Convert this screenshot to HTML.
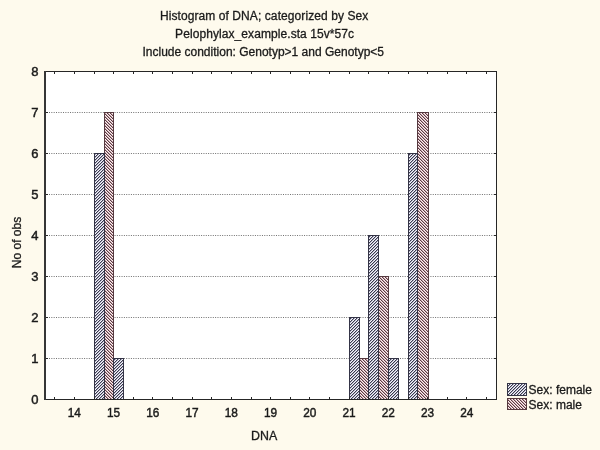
<!DOCTYPE html><html><head><meta charset="utf-8"><style>html,body{margin:0;padding:0;background:#FEFAED;}svg{display:block}text{font-family:"Liberation Sans",sans-serif;fill:#1a1a1a;stroke:#1a1a1a;stroke-width:0.3px}svg{will-change:transform}</style></head><body>
<svg width="600" height="450" viewBox="0 0 600 450" shape-rendering="crispEdges">
<defs>
<pattern id="hf" patternUnits="userSpaceOnUse" width="3" height="3"><rect width="3" height="3" fill="#f6f6fe"/><rect x="2" y="0" width="1" height="1" fill="#3a3a4c"/><rect x="0" y="0" width="1" height="1" fill="#aeaec2"/><rect x="1" y="1" width="1" height="1" fill="#3a3a4c"/><rect x="2" y="1" width="1" height="1" fill="#aeaec2"/><rect x="0" y="2" width="1" height="1" fill="#3a3a4c"/><rect x="1" y="2" width="1" height="1" fill="#aeaec2"/></pattern>
<pattern id="hm" patternUnits="userSpaceOnUse" width="3" height="3"><rect width="3" height="3" fill="#fff0f3"/><rect x="0" y="0" width="1" height="1" fill="#5c3c42"/><rect x="1" y="0" width="1" height="1" fill="#c6a6ac"/><rect x="1" y="1" width="1" height="1" fill="#5c3c42"/><rect x="2" y="1" width="1" height="1" fill="#c6a6ac"/><rect x="2" y="2" width="1" height="1" fill="#5c3c42"/><rect x="0" y="2" width="1" height="1" fill="#c6a6ac"/></pattern>
</defs>
<rect x="0" y="0" width="600" height="450" fill="#FEFAED"/>
<rect x="44" y="71" width="453" height="329" fill="#fff"/>
<line x1="49" y1="358.5" x2="494" y2="358.5" stroke="#707070" stroke-width="1" stroke-dasharray="1 1.34" shape-rendering="auto"/>
<line x1="49" y1="317.5" x2="494" y2="317.5" stroke="#707070" stroke-width="1" stroke-dasharray="1 1.34" shape-rendering="auto"/>
<line x1="49" y1="276.5" x2="494" y2="276.5" stroke="#707070" stroke-width="1" stroke-dasharray="1 1.34" shape-rendering="auto"/>
<line x1="49" y1="235.5" x2="494" y2="235.5" stroke="#707070" stroke-width="1" stroke-dasharray="1 1.34" shape-rendering="auto"/>
<line x1="49" y1="194.5" x2="494" y2="194.5" stroke="#707070" stroke-width="1" stroke-dasharray="1 1.34" shape-rendering="auto"/>
<line x1="49" y1="153.5" x2="494" y2="153.5" stroke="#707070" stroke-width="1" stroke-dasharray="1 1.34" shape-rendering="auto"/>
<line x1="49" y1="112.5" x2="494" y2="112.5" stroke="#707070" stroke-width="1" stroke-dasharray="1 1.34" shape-rendering="auto"/>
<rect x="104" y="112" width="10" height="287" fill="url(#hm)"/><rect x="104" y="112" width="1" height="287" fill="#563a40"/><rect x="113" y="112" width="1" height="287" fill="#563a40"/><rect x="104" y="112" width="10" height="1" fill="#563a40"/>
<rect x="94" y="153" width="11" height="246" fill="url(#hf)"/><rect x="94" y="153" width="1" height="246" fill="#343446"/><rect x="104" y="153" width="1" height="246" fill="#343446"/><rect x="94" y="153" width="11" height="1" fill="#343446"/>
<rect x="113" y="358" width="11" height="41" fill="url(#hf)"/><rect x="113" y="358" width="1" height="41" fill="#343446"/><rect x="123" y="358" width="1" height="41" fill="#343446"/><rect x="113" y="358" width="11" height="1" fill="#343446"/>
<rect x="359" y="358" width="10" height="41" fill="url(#hm)"/><rect x="359" y="358" width="1" height="41" fill="#563a40"/><rect x="368" y="358" width="1" height="41" fill="#563a40"/><rect x="359" y="358" width="10" height="1" fill="#563a40"/>
<rect x="349" y="317" width="11" height="82" fill="url(#hf)"/><rect x="349" y="317" width="1" height="82" fill="#343446"/><rect x="359" y="317" width="1" height="82" fill="#343446"/><rect x="349" y="317" width="11" height="1" fill="#343446"/>
<rect x="378" y="276" width="11" height="123" fill="url(#hm)"/><rect x="378" y="276" width="1" height="123" fill="#563a40"/><rect x="388" y="276" width="1" height="123" fill="#563a40"/><rect x="378" y="276" width="11" height="1" fill="#563a40"/>
<rect x="368" y="235" width="11" height="164" fill="url(#hf)"/><rect x="368" y="235" width="1" height="164" fill="#343446"/><rect x="378" y="235" width="1" height="164" fill="#343446"/><rect x="368" y="235" width="11" height="1" fill="#343446"/>
<rect x="388" y="358" width="11" height="41" fill="url(#hf)"/><rect x="388" y="358" width="1" height="41" fill="#343446"/><rect x="398" y="358" width="1" height="41" fill="#343446"/><rect x="388" y="358" width="11" height="1" fill="#343446"/>
<rect x="417" y="112" width="12" height="287" fill="url(#hm)"/><rect x="417" y="112" width="1" height="287" fill="#563a40"/><rect x="428" y="112" width="1" height="287" fill="#563a40"/><rect x="417" y="112" width="12" height="1" fill="#563a40"/>
<rect x="408" y="153" width="10" height="246" fill="url(#hf)"/><rect x="408" y="153" width="1" height="246" fill="#343446"/><rect x="417" y="153" width="1" height="246" fill="#343446"/><rect x="408" y="153" width="10" height="1" fill="#343446"/>
<g fill="#262626"><rect x="54" y="397" width="1" height="2"/><rect x="54" y="72" width="1" height="2"/><rect x="74" y="397" width="1" height="2"/><rect x="74" y="72" width="1" height="2"/><rect x="94" y="397" width="1" height="2"/><rect x="94" y="72" width="1" height="2"/><rect x="113" y="397" width="1" height="2"/><rect x="113" y="72" width="1" height="2"/><rect x="133" y="397" width="1" height="2"/><rect x="133" y="72" width="1" height="2"/><rect x="152" y="397" width="1" height="2"/><rect x="152" y="72" width="1" height="2"/><rect x="172" y="397" width="1" height="2"/><rect x="172" y="72" width="1" height="2"/><rect x="192" y="397" width="1" height="2"/><rect x="192" y="72" width="1" height="2"/><rect x="211" y="397" width="1" height="2"/><rect x="211" y="72" width="1" height="2"/><rect x="231" y="397" width="1" height="2"/><rect x="231" y="72" width="1" height="2"/><rect x="251" y="397" width="1" height="2"/><rect x="251" y="72" width="1" height="2"/><rect x="270" y="397" width="1" height="2"/><rect x="270" y="72" width="1" height="2"/><rect x="290" y="397" width="1" height="2"/><rect x="290" y="72" width="1" height="2"/><rect x="309" y="397" width="1" height="2"/><rect x="309" y="72" width="1" height="2"/><rect x="329" y="397" width="1" height="2"/><rect x="329" y="72" width="1" height="2"/><rect x="349" y="397" width="1" height="2"/><rect x="349" y="72" width="1" height="2"/><rect x="368" y="397" width="1" height="2"/><rect x="368" y="72" width="1" height="2"/><rect x="388" y="397" width="1" height="2"/><rect x="388" y="72" width="1" height="2"/><rect x="408" y="397" width="1" height="2"/><rect x="408" y="72" width="1" height="2"/><rect x="427" y="397" width="1" height="2"/><rect x="427" y="72" width="1" height="2"/><rect x="447" y="397" width="1" height="2"/><rect x="447" y="72" width="1" height="2"/><rect x="466" y="397" width="1" height="2"/><rect x="466" y="72" width="1" height="2"/><rect x="486" y="397" width="1" height="2"/><rect x="486" y="72" width="1" height="2"/><rect x="46" y="358" width="2" height="1"/><rect x="494" y="358" width="2" height="1"/><rect x="46" y="317" width="2" height="1"/><rect x="494" y="317" width="2" height="1"/><rect x="46" y="276" width="2" height="1"/><rect x="494" y="276" width="2" height="1"/><rect x="46" y="235" width="2" height="1"/><rect x="494" y="235" width="2" height="1"/><rect x="46" y="194" width="2" height="1"/><rect x="494" y="194" width="2" height="1"/><rect x="46" y="153" width="2" height="1"/><rect x="494" y="153" width="2" height="1"/><rect x="46" y="112" width="2" height="1"/><rect x="494" y="112" width="2" height="1"/></g>
<g fill="#262626"><rect x="44" y="71" width="453" height="1"/><rect x="44" y="399" width="453" height="1"/><rect x="44" y="71" width="2" height="329" fill="#363636"/><rect x="496" y="71" width="1" height="329"/></g>
<text x="38.5" y="404.00" font-size="13" text-anchor="end" style="stroke-width:0.45px">0</text>
<text x="38.5" y="363.00" font-size="13" text-anchor="end" style="stroke-width:0.45px">1</text>
<text x="38.5" y="322.00" font-size="13" text-anchor="end" style="stroke-width:0.45px">2</text>
<text x="38.5" y="281.00" font-size="13" text-anchor="end" style="stroke-width:0.45px">3</text>
<text x="38.5" y="240.00" font-size="13" text-anchor="end" style="stroke-width:0.45px">4</text>
<text x="38.5" y="199.00" font-size="13" text-anchor="end" style="stroke-width:0.45px">5</text>
<text x="38.5" y="158.00" font-size="13" text-anchor="end" style="stroke-width:0.45px">6</text>
<text x="38.5" y="117.00" font-size="13" text-anchor="end" style="stroke-width:0.45px">7</text>
<text x="38.5" y="76.00" font-size="13" text-anchor="end" style="stroke-width:0.45px">8</text>
<text x="74.31" y="417" font-size="13" text-anchor="middle" style="stroke-width:0.45px" textLength="13.2" lengthAdjust="spacingAndGlyphs">14</text>
<text x="113.56" y="417" font-size="13" text-anchor="middle" style="stroke-width:0.45px" textLength="13.2" lengthAdjust="spacingAndGlyphs">15</text>
<text x="152.81" y="417" font-size="13" text-anchor="middle" style="stroke-width:0.45px" textLength="13.2" lengthAdjust="spacingAndGlyphs">16</text>
<text x="192.06" y="417" font-size="13" text-anchor="middle" style="stroke-width:0.45px" textLength="13.2" lengthAdjust="spacingAndGlyphs">17</text>
<text x="231.31" y="417" font-size="13" text-anchor="middle" style="stroke-width:0.45px" textLength="13.2" lengthAdjust="spacingAndGlyphs">18</text>
<text x="270.56" y="417" font-size="13" text-anchor="middle" style="stroke-width:0.45px" textLength="13.2" lengthAdjust="spacingAndGlyphs">19</text>
<text x="309.81" y="417" font-size="13" text-anchor="middle" style="stroke-width:0.45px" textLength="13.2" lengthAdjust="spacingAndGlyphs">20</text>
<text x="349.06" y="417" font-size="13" text-anchor="middle" style="stroke-width:0.45px" textLength="13.2" lengthAdjust="spacingAndGlyphs">21</text>
<text x="388.31" y="417" font-size="13" text-anchor="middle" style="stroke-width:0.45px" textLength="13.2" lengthAdjust="spacingAndGlyphs">22</text>
<text x="427.56" y="417" font-size="13" text-anchor="middle" style="stroke-width:0.45px" textLength="13.2" lengthAdjust="spacingAndGlyphs">23</text>
<text x="466.81" y="417" font-size="13" text-anchor="middle" style="stroke-width:0.45px" textLength="13.2" lengthAdjust="spacingAndGlyphs">24</text>
<text x="264.2" y="439.5" font-size="12.4" text-anchor="middle">DNA</text>
<text transform="translate(20.5,242.5) rotate(-90)" font-size="12" text-anchor="middle">No of obs</text>
<text x="264.1" y="19.8" font-size="12" text-anchor="middle" textLength="208.4" lengthAdjust="spacing">Histogram of DNA; categorized by Sex</text>
<text x="264.6" y="37.8" font-size="12" text-anchor="middle" textLength="179" lengthAdjust="spacing">Pelophylax_example.sta 15v*57c</text>
<text x="263.25" y="55.8" font-size="12" text-anchor="middle">Include condition: Genotyp&gt;1 and Genotyp&lt;5</text>
<rect x="507" y="383" width="20" height="13" fill="url(#hf)"/><rect x="507.5" y="383.5" width="19" height="12" fill="none" stroke="#343446" stroke-width="1"/>
<rect x="507" y="398" width="20" height="12" fill="url(#hm)"/><rect x="507.5" y="398.5" width="19" height="11" fill="none" stroke="#563a40" stroke-width="1"/>
<text x="528.6" y="394" font-size="12">Sex: female</text>
<text x="528.6" y="408.6" font-size="12">Sex: male</text>
</svg></body></html>
